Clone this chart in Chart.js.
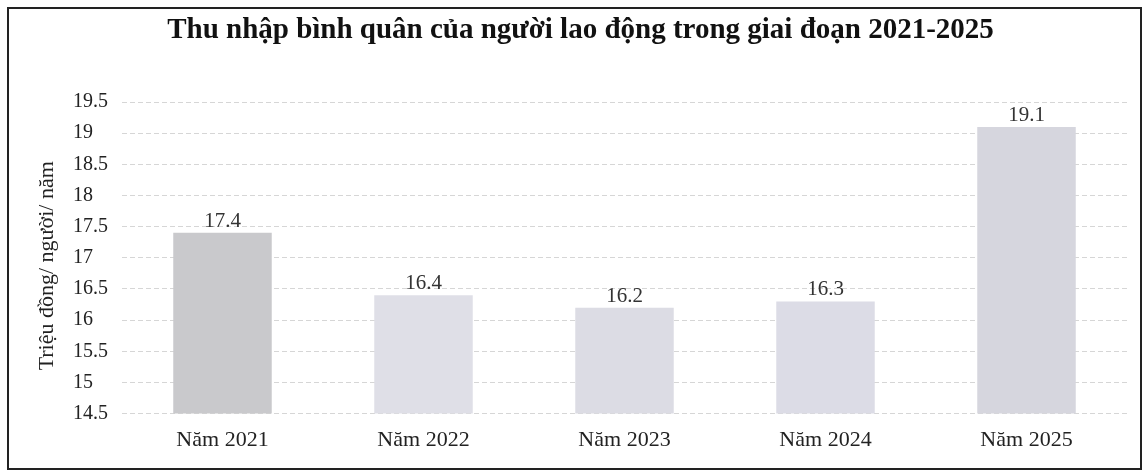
<!DOCTYPE html>
<html>
<head>
<meta charset="utf-8">
<script src="https://cdn.jsdelivr.net/npm/chart.js@4"></script>
<style>
body { margin: 0; background: #fff; }
#box { position: absolute; left: 7px; top: 7px; width: 1131px; height: 459px; border: 2px solid #222; }
</style>
</head>
<body>
<div id="box"><canvas id="chart"></canvas></div>
<script>
var years = ['Năm 2021', 'Năm 2022', 'Năm 2023', 'Năm 2024', 'Năm 2025']
var income = [17.4, 16.4, 16.2, 16.3, 19.1]
var barColors = ['#c9c9cc', '#dfdfe7', '#dcdce4', '#dcdce6', '#d6d6de']
var title = 'Thu nhập bình quân của người lao động trong giai đoạn 2021-2025'
var yTitle = 'Triệu đồng/ người/ năm'

// title, values above each bar, y axis title
// (drawn by hand so the title is centred on the frame and ticks can be left aligned)
var extraText = {
	id: 'extraText',
	afterDatasetsDraw: function(chart)
	{
		var ctx = chart.ctx
		var meta = chart.getDatasetMeta(0)
		ctx.save()
		ctx.textAlign = 'center'

		ctx.font = 'bold 29px "Liberation Serif"'
		ctx.fillStyle = '#111'
		ctx.textBaseline = 'middle'
		ctx.fillText(title, chart.width / 2 + 6, 22)

		ctx.font = '21px "Liberation Serif"'
		ctx.fillStyle = '#333'
		ctx.textBaseline = 'bottom'
		meta.data.forEach(function(bar, i)
		{
			ctx.fillText(income[i], bar.x, bar.y - 1)
		})

		var area = chart.chartArea
		ctx.translate(38, (area.top + area.bottom) / 2 + 8)
		ctx.rotate(-Math.PI / 2)
		ctx.font = '22px "Liberation Serif"'
		ctx.fillStyle = '#222'
		ctx.textBaseline = 'middle'
		ctx.fillText(yTitle, 0, 0)
		ctx.restore()
	}
}

var ctx = document.getElementById('chart')
var chart = new Chart(ctx, {
	type: 'bar',
	data: {
		labels: years,
		datasets: [{
			data: income,
			backgroundColor: barColors,
			borderWidth: 0,
			categoryPercentage: 1,
			barPercentage: 0.49
		}]
	},
	options: {
		responsive: true,
		maintainAspectRatio: false,
		animation: false,
		layout: { padding: { left: 64, right: 13, top: 93, bottom: 10 } },
		plugins: {
			legend: { display: false },
			tooltip: { enabled: false },
			title: { display: false }
		},
		scales: {
			y: {
				min: 14.5,
				max: 19.5,
				afterFit: function(scale) { scale.width = 49 },
				ticks: {
					stepSize: 0.5,
					color: '#222',
					crossAlign: 'far',
					font: { family: '"Liberation Serif"', size: 20 },
					callback: function(v) { return String(Math.round(v * 10) / 10) }
				},
				grid: { color: '#d6d6d6', drawTicks: false },
				border: { display: false, dash: [5, 3] }
			},
			x: {
				ticks: {
					color: '#222',
					padding: 5,
					font: { family: '"Liberation Serif"', size: 22 }
				},
				grid: { display: false },
				border: { display: false }
			}
		}
	},
	plugins: [extraText]
})
</script>
</body>
</html>
